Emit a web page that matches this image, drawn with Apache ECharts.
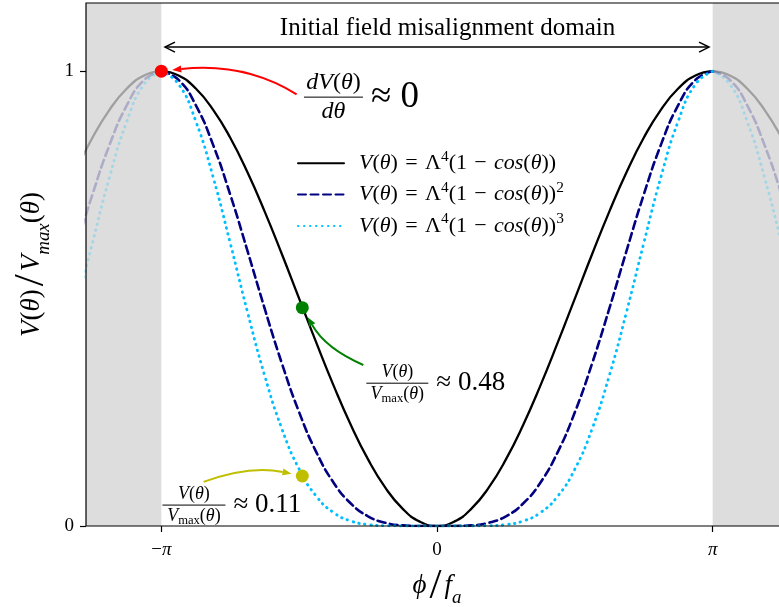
<!DOCTYPE html>
<html>
<head>
<meta charset="utf-8">
<title>Initial field misalignment</title>
<script src="https://cdn.jsdelivr.net/npm/echarts@6/dist/echarts.min.js"></script>
<style>
    html, body { margin: 0; padding: 0; background: #fff; }
    #chart { width: 779px; height: 607px; }
</style>
</head>
<body>
<div id="chart"></div>
<script>
// phi / f_a sample points (rad)
var xs = [-4.1233, -3.9270, -3.7306, -3.5343, -3.3379, -3.1416, -2.9452, -2.7489, -2.5525, -2.3562,
    -2.1598, -1.9635, -1.7671, -1.5708, -1.3744, -1.1781, -0.9817, -0.7854, -0.5890, -0.3927,
    -0.1963, 0, 0.1963, 0.3927, 0.5890, 0.7854, 0.9817, 1.1781, 1.3744, 1.5708,
    1.7671, 1.9635, 2.1598, 2.3562, 2.5525, 2.7489, 2.9452, 3.1416, 3.3379, 3.5343,
    3.7306, 3.9270, 4.1233];
// V / Vmax, first power
var v1 = [0.7778, 0.8536, 0.9157, 0.9619, 0.9904, 1, 0.9904, 0.9619, 0.9157, 0.8536,
    0.7778, 0.6913, 0.5975, 0.5, 0.4025, 0.3087, 0.2222, 0.1464, 0.0843, 0.0381,
    0.0096, 0, 0.0096, 0.0381, 0.0843, 0.1464, 0.2222, 0.3087, 0.4025, 0.5,
    0.5975, 0.6913, 0.7778, 0.8536, 0.9157, 0.9619, 0.9904, 1, 0.9904, 0.9619,
    0.9157, 0.8536, 0.7778];
// squared
var v2 = [0.6050, 0.7286, 0.8386, 0.9253, 0.9809, 1, 0.9809, 0.9253, 0.8386, 0.7286,
    0.6050, 0.4780, 0.3571, 0.25, 0.1620, 0.0953, 0.0494, 0.0214, 0.0071, 0.0014,
    0.0001, 0, 0.0001, 0.0014, 0.0071, 0.0214, 0.0494, 0.0953, 0.1620, 0.25,
    0.3571, 0.4780, 0.6050, 0.7286, 0.8386, 0.9253, 0.9809, 1, 0.9809, 0.9253,
    0.8386, 0.7286, 0.6050];
// cubed
var v3 = [0.4705, 0.6219, 0.7679, 0.8901, 0.9715, 1, 0.9715, 0.8901, 0.7679, 0.6219,
    0.4705, 0.3304, 0.2134, 0.125, 0.0652, 0.0294, 0.0110, 0.0031, 0.0006, 0.0001,
    0, 0, 0, 0.0001, 0.0006, 0.0031, 0.0110, 0.0294, 0.0652, 0.125,
    0.2134, 0.3304, 0.4705, 0.6219, 0.7679, 0.8901, 0.9715, 1, 0.9715, 0.8901,
    0.7679, 0.6219, 0.4705];
var names = ['V1', 'V2', 'V3'];
var xTicks = [-Math.PI, 0, Math.PI];
var xTickText = ['{n|−}{i|π}', '{n|0}', '{i|π}'];
var yTicks = [0, 1];
// marked points: dV/dθ≈0, V≈0.48, V≈0.11
var dotX = [-3.1416, -1.535, -1.535];
var dotY = [1, 0.48, 0.11];

var F = '"Liberation Serif", "DejaVu Serif", serif';
var SP = '\u2004';
function rich(s) {
    return {
        n: { fontSize: s, fontFamily: F, lineHeight: s * 1.3, color: '#000' },
        i: { fontSize: s, fontFamily: F, fontStyle: 'italic', lineHeight: s * 1.3, color: '#000' },
        sup: { fontSize: s * 0.7, fontFamily: F, verticalAlign: 'top', lineHeight: s * 0.7, color: '#000' },
        sub: { fontSize: s * 0.7, fontFamily: F, verticalAlign: 'bottom', lineHeight: s * 0.7, color: '#000' },
        subi: { fontSize: s * 0.7, fontFamily: F, fontStyle: 'italic', verticalAlign: 'bottom', lineHeight: s * 0.7, color: '#000' },
        sl: { fontSize: s * 1.6, fontFamily: F, lineHeight: s * 1.6, color: '#000', padding: [0, 3, 0, 3] }
    };
}
var formula = '{i|V}{n|(}{i|θ}{n|)' + SP + '=' + SP + 'Λ}{sup|4}{n|(1' + SP + '−' + SP + '}{i|cos}{n|(}{i|θ}{n|))}';
var legendText = { V1: formula, V2: formula + '{sup|2}', V3: formula + '{sup|3}' };

function pick(ys, test) {
    var out = [];
    for (var i = 0; i < xs.length; i++) {
        if (test(xs[i])) out.push([xs[i], ys[i]]);
    }
    return out;
}
var inside = function (x) { return Math.abs(x) <= 3.1417; };
var leftOut = function (x) { return x <= -3.1415; };
var rightOut = function (x) { return x >= 3.1415; };

var styles = [
    { color: '#000000', fade: 'rgba(0,0,0,0.28)', type: 'solid', width: 2.3 },
    { color: '#000080', fade: 'rgba(0,0,128,0.22)', type: [8, 4.5], width: 2.6 },
    { color: '#00bfff', fade: 'rgba(0,191,255,0.25)', type: [0.5, 5.5], width: 2.9 }
];
var ys = [v1, v2, v3];

var series = [{
    type: 'line', data: [], silent: true, z: 1,
    markArea: {
        silent: true,
        itemStyle: { color: '#dddddd' },
        data: [[{ xAxis: -4 }, { xAxis: -Math.PI }], [{ xAxis: Math.PI }, { xAxis: 4 }]]
    }
}];
ys.forEach(function (y, k) {
    var st = styles[k];
    [leftOut, rightOut].forEach(function (side) {
        series.push({
            type: 'line', data: pick(y, side), smooth: true, symbol: 'none', z: 2, silent: true,
            lineStyle: { color: st.fade, width: st.width, type: st.type, cap: 'round' }
        });
    });
});
ys.forEach(function (y, k) {
    var st = styles[k];
    series.push({
        name: names[k], type: 'line', data: pick(y, inside), smooth: true, symbol: 'none', z: 3,
        color: st.color,
        lineStyle: { color: st.color, width: st.width, type: st.type, cap: 'round' }
    });
});
series.push({
    type: 'scatter', z: 5, symbolSize: 13,
    data: dotX.map(function (x, i) { return [x, dotY[i]]; }),
    itemStyle: {
        opacity: 1,
        color: function (p) { return ['#ff0000', '#008000', '#bfbf00'][p.dataIndex]; }
    }
});

var chart = echarts.init(document.getElementById('chart'));
chart.setOption({
    animation: false,
    backgroundColor: '#fff',
    grid: { left: 86, width: 702, top: 3, bottom: 81, outerBoundsMode: 'none', containLabel: false },
    legend: {
        data: names, orient: 'vertical', left: 292, top: 144,
        itemWidth: 46, itemHeight: 14, itemGap: 6,
        itemStyle: { opacity: 0 },
        formatter: function (n) { return legendText[n]; },
        textStyle: { fontFamily: F, fontSize: 22, rich: rich(22), padding: [0, 0, 0, 10] }
    },
    xAxis: {
        type: 'value', min: -4, max: 4,
        name: '{i|ϕ}{sl|/}{i|f}{subi|a}', nameLocation: 'middle', nameGap: 32,
        nameTextStyle: { rich: rich(27) },
        axisLine: { show: false, onZero: false },
        splitLine: { show: false },
        axisTick: { customValues: xTicks, length: 6, lineStyle: { color: '#000', width: 1.2 } },
        axisLabel: {
            customValues: xTicks, margin: 12, rich: rich(19),
            formatter: function (v) {
                var i = xTicks.findIndex(function (t) { return Math.abs(t - v) < 1e-6; });
                return i < 0 ? '' : xTickText[i];
            }
        }
    },
    yAxis: {
        type: 'value', min: 0, max: 1.15,
        name: '{i|V}{n|(}{i|θ}{n|)}{sl|/}{i|V}{subi|max}{n|(}{i|θ}{n|)}',
        nameLocation: 'middle', nameRotate: 90, nameGap: 31,
        nameTextStyle: { rich: rich(27) },
        axisLine: { show: false, onZero: false },
        splitLine: { show: false },
        axisTick: { customValues: yTicks, length: 6, lineStyle: { color: '#000', width: 1.2 } },
        axisLabel: {
            customValues: yTicks, margin: 12, fontFamily: F, fontSize: 19, color: '#000',
            formatter: function (v) { return String(v); }
        }
    },
    series: series
});

// annotations, placed in data coordinates
function px(x, y) { return chart.convertToPixel({ gridIndex: 0 }, [x, y]); }
var g = [];
var p0 = px(-4, 1.15), p1 = px(4, 0);
g.push({
    type: 'rect', z: 100, silent: true,
    shape: { x: p0[0], y: p0[1], width: p1[0] - p0[0], height: p1[1] - p0[1] },
    style: { fill: null, stroke: '#000', lineWidth: 1.2 }
});

function arrow(from, ctrl, dotIdx, color) {
    var a = px(from[0], from[1]), c = px(ctrl[0], ctrl[1]);
    var d = px(dotX[dotIdx], dotY[dotIdx]);
    var ang0 = Math.atan2(d[1] - c[1], d[0] - c[0]);
    var tip = [d[0] - 11 * Math.cos(ang0), d[1] - 11 * Math.sin(ang0)];
    var ang = Math.atan2(tip[1] - c[1], tip[0] - c[0]);
    var L = 9, W = 3.5;
    var b = [tip[0] - L * Math.cos(ang), tip[1] - L * Math.sin(ang)];
    var nx = -Math.sin(ang), ny = Math.cos(ang);
    g.push({
        type: 'bezierCurve', z: 6, silent: true,
        shape: { x1: a[0], y1: a[1], x2: b[0], y2: b[1], cpx1: c[0], cpy1: c[1] },
        style: { stroke: color, lineWidth: 2, fill: null }
    });
    g.push({
        type: 'polygon', z: 6, silent: true,
        shape: { points: [tip, [b[0] + nx * W, b[1] + ny * W], [b[0] - nx * W, b[1] - ny * W]] },
        style: { fill: color }
    });
}
arrow([-1.60, 0.949], [-2.19, 1.02], 0, '#ff0000');
arrow([-0.84, 0.354], [-1.27, 0.39], 1, '#008000');
arrow([-2.66, 0.097], [-2.14, 0.134], 2, '#bfbf00');

function frac(x, y, num, den, size, halfW, rest, restSize) {
    var c = px(x, y);
    var R = rich(size);
    g.push({ type: 'line', z: 7, silent: true,
        shape: { x1: c[0] - halfW, y1: c[1], x2: c[0] + halfW, y2: c[1] },
        style: { stroke: '#000', lineWidth: 1 } });
    g.push({ type: 'text', z: 7, silent: true, x: c[0], y: c[1] + 1,
        style: { text: num, rich: R, align: 'center', verticalAlign: 'bottom' } });
    g.push({ type: 'text', z: 7, silent: true, x: c[0], y: c[1] - 1,
        style: { text: den, rich: R, align: 'center', verticalAlign: 'top' } });
    g.push({ type: 'text', z: 7, silent: true, x: c[0] + halfW + 8, y: c[1],
        style: { text: rest, font: restSize + 'px ' + F, fill: '#000', align: 'left', verticalAlign: 'middle' } });
}
frac(-1.18, 0.943, '{i|dV}{n|(}{i|θ}{n|)}', '{i|dθ}', 24, 29.5, '≈ 0', 37);
frac(-0.452, 0.314, '{i|V}{n|(}{i|θ}{n|)}', '{i|V}{sub|max}{n|(}{i|θ}{n|)}', 18, 31, '≈ 0.48', 27);
frac(-2.77, 0.046, '{i|V}{n|(}{i|θ}{n|)}', '{i|V}{sub|max}{n|(}{i|θ}{n|)}', 18, 31.5, '≈ 0.11', 27);

// domain arrow and caption
var l = px(-3.10, 1.053), r = px(3.10, 1.053);
g.push({ type: 'line', z: 7, silent: true, shape: { x1: l[0], y1: l[1], x2: r[0], y2: r[1] },
    style: { stroke: '#000', lineWidth: 1.5 } });
g.push({ type: 'polyline', z: 7, silent: true,
    shape: { points: [[l[0] + 10, l[1] - 5], [l[0], l[1]], [l[0] + 10, l[1] + 5]] },
    style: { stroke: '#000', lineWidth: 1.5, fill: null } });
g.push({ type: 'polyline', z: 7, silent: true,
    shape: { points: [[r[0] - 10, r[1] - 5], [r[0], r[1]], [r[0] - 10, r[1] + 5]] },
    style: { stroke: '#000', lineWidth: 1.5, fill: null } });
var t = px(0.12, 1.094);
g.push({ type: 'text', z: 7, silent: true, x: t[0], y: t[1],
    style: { text: 'Initial field misalignment domain', font: '25px ' + F, fill: '#000',
        align: 'center', verticalAlign: 'middle' } });

chart.setOption({ graphic: g });
</script>
</body>
</html>
